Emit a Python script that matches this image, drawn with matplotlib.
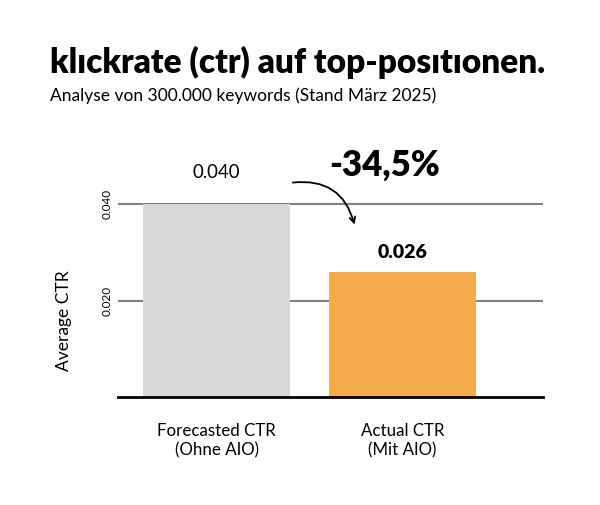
import matplotlib
matplotlib.use("Agg")
import matplotlib.pyplot as plt

categories = ["Forecasted CTR\n(Ohne AIO)", "Actual CTR\n(Mit AIO)"]
values = [0.040, 0.026]
value_labels = ["0.040", "0.026"]
change_label = "-34,5%"
yticks = [0.020, 0.040]
ytick_labels = ["0.020", "0.040"]

plt.rcParams['font.family'] = ['Lato', 'DejaVu Sans']

fig = plt.figure(figsize=(6, 5.05), dpi=100)
# axes box in figure pixels: x 118..543, y 140..397 (from top)
W, H = 600, 505
ax = fig.add_axes([118 / W, (H - 397) / H, (543 - 118) / W, (397 - 140) / H])

x = [0, 1]
ax.bar(x, values, width=0.79, color=["#d9d9d9", "#f4ab4a"], zorder=2)
ax.set_xlim(-0.53, 1.755)
ax.set_ylim(0, 0.0533)

for t in yticks:
    ax.axhline(t, color="#808080", lw=1.5, zorder=1)

ax.set_yticks(yticks)
ax.set_yticklabels(ytick_labels, rotation=90, va="center", fontsize=8.5)
ax.tick_params(axis="y", length=0, pad=4)
ax.set_xticks(x)
ax.set_xticklabels(categories, fontsize=12.2, linespacing=1.25)
ax.tick_params(axis="x", length=0, pad=19)
ax.set_ylabel("Average CTR", fontsize=12.5)
ax.yaxis.set_label_coords(-0.108, 0.295)

for s in ["top", "right", "left"]:
    ax.spines[s].set_visible(False)
ax.spines["bottom"].set_linewidth(2)
ax.spines["bottom"].set_zorder(3)

ax.text(0, 0.0466, value_labels[0], ha="center", va="center", fontsize=13.4)
ax.text(1, 0.0300, value_labels[1], ha="center", va="center", fontsize=14, fontweight="heavy")

ax.text(0.905, 0.0481, change_label, ha="center", va="center", fontsize=25, fontweight="heavy")
ax.annotate("", xy=(0.745, 0.0352), xytext=(0.395, 0.0444),
            arrowprops=dict(arrowstyle="->", color="black", lw=1.3,
                            connectionstyle="arc3,rad=-0.45"))

fig.text(50 / W, 1 - 62 / H, "klıckrate (ctr) auf top-posıtıonen.", fontsize=24,
         fontweight="heavy", va="center", ha="left")
fig.text(50 / W, 1 - 96 / H, "Analyse von 300.000 keywords (Stand März 2025)",
         fontsize=12.5, va="center", ha="left")

fig.savefig("out.png", dpi=100, facecolor="white")
